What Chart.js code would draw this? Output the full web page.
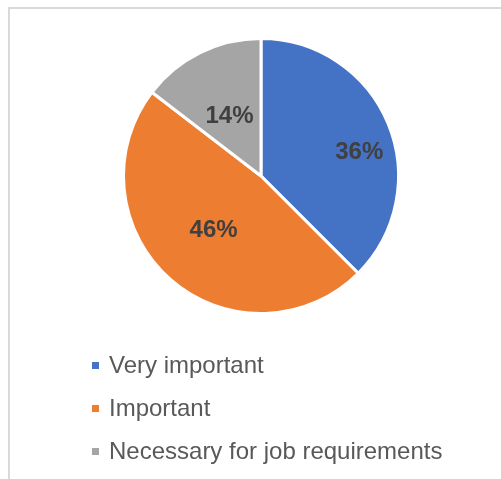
<!DOCTYPE html>
<html>
<head>
<meta charset="utf-8">
<script src="https://cdn.jsdelivr.net/npm/chart.js@4/dist/chart.umd.min.js"></script>
<style>
    html, body { margin: 0; padding: 0; background: #fff; }
    #wrap { position: relative; width: 501px; height: 479px; overflow: hidden; }
    #frame {
        position: absolute; left: 8px; top: 7px; width: 600px; height: 600px;
        border-left: 2px solid #d9d9d9; border-top: 2px solid #d9d9d9;
    }
    #chart { position: absolute; left: 0; top: 0; }
</style>
</head>
<body>
<div id="wrap">
    <div id="frame"></div>
    <canvas id="chart" width="501" height="479"></canvas>
</div>
<script>
const categories = ['Very important', 'Important', 'Necessary for job requirements'];
const shares = [36, 46, 14];
const sliceColors = ['#4472C4', '#ED7D31', '#A5A5A5'];

// small per-slice shifts for the percent labels, Excel-style "best fit"
const labelNudge = [[22, 8], [7, -8], [5, 14]];

const pctLabels = {
    id: 'pctLabels',
    afterDatasetsDraw(chart) {
        const ctx = chart.ctx;
        const meta = chart.getDatasetMeta(0);
        ctx.save();
        ctx.font = 'bold 24px "Liberation Sans", Arial, sans-serif';
        ctx.fillStyle = '#404040';
        ctx.textAlign = 'center';
        ctx.textBaseline = 'middle';
        meta.data.forEach(function (arc, i) {
            const mid = (arc.startAngle + arc.endAngle) / 2;
            const r = arc.outerRadius * 0.6;
            const x = arc.x + Math.cos(mid) * r + labelNudge[i][0];
            const y = arc.y + Math.sin(mid) * r + labelNudge[i][1];
            ctx.fillText(shares[i] + '%', x, y);
        });
        ctx.restore();
    }
};

const stackedLegend = {
    id: 'stackedLegend',
    afterDraw(chart) {
        const ctx = chart.ctx;
        const colors = chart.data.datasets[0].backgroundColor;
        ctx.save();
        ctx.font = '24px "Liberation Sans", Arial, sans-serif';
        ctx.textBaseline = 'alphabetic';
        chart.data.labels.forEach(function (label, i) {
            const base = 373 + i * 43;
            ctx.fillStyle = colors[i];
            ctx.fillRect(92, base - 11, 7, 7);
            ctx.fillStyle = '#595959';
            ctx.fillText(label, 109, base);
        });
        ctx.restore();
    }
};

const ctx = document.getElementById('chart').getContext('2d');
new Chart(ctx, {
    type: 'pie',
    data: {
        labels: categories,
        datasets: [{
            data: shares,
            backgroundColor: sliceColors,
            borderColor: '#ffffff',
            borderWidth: 3,
            hoverOffset: 0
        }]
    },
    options: {
        responsive: false,
        animation: false,
        events: [],
        layout: { padding: { left: 122, right: 101, top: 37, bottom: 164 } },
        plugins: {
            legend: { display: false },
            tooltip: { enabled: false }
        }
    },
    plugins: [pctLabels, stackedLegend]
});
</script>
</body>
</html>
